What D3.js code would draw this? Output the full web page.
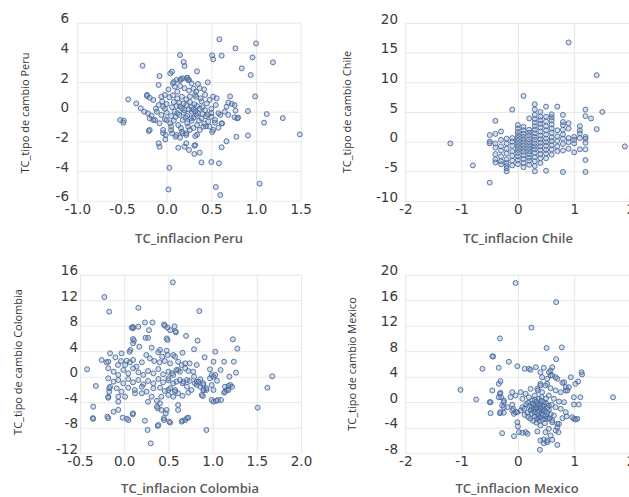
<!DOCTYPE html>
<html>
<head>
<meta charset="utf-8">
<script src="https://cdn.jsdelivr.net/npm/d3@7"></script>
<style>
  body { margin: 0; background: #fff; }
  svg { display: block; }
</style>
</head>
<body>
<svg id="chart" width="629" height="497"></svg>
<script>
// Monthly changes: inflation (x) vs exchange rate (y), one panel per country.
const peru = [
  [0.59,4.88],[1.0,4.6],[0.77,4.27],[0.15,3.82],[0.51,3.8],[0.615,3.78],[0.52,3.53],[0.96,3.66],[1.19,3.33],[0.19,3.35],
  [0.2,3.08],[-0.27,3.1],[0.84,2.92],[0.34,2.72],[0.06,2.7],[0.04,2.58],[0.94,2.47],[-0.08,2.4],[0.18,2.25],[0.46,1.98],
  [0.23,2.27],[0.25,2.13],[0.08,2.0],[0.15,2.13],[0.99,1.03],[0.71,1.03],[-0.43,0.83],[-0.34,0.56],[-0.22,1.06],[1.12,-0.16],
  [1.3,-0.43],[1.09,-0.74],[1.49,-1.53],[0.91,0.04],[0.77,0.07],[0.76,-0.38],[0.8,-0.4],[-0.52,-0.56],[-0.48,-0.6],[-0.485,-0.74],
  [0.91,-1.6],[0.78,-1.69],[0.67,-2.0],[0.615,-2.4],[-0.2,-1.3],[-0.09,-2.13],[-0.08,-2.36],[-0.015,-1.87],[0.13,-2.43],[0.22,-2.13],
  [0.2,-2.36],[0.31,-2.29],[0.31,-2.85],[0.37,-2.76],[0.39,-3.42],[0.5,-3.39],[0.585,-3.48],[0.03,-3.78],[0.55,-5.08],[1.04,-4.85],
  [0.02,-5.24],[0.6,-5.62],[0.18,-1.46],[0.22,-1.46],[0.34,-1.55],[0.51,-1.37],[0.44,-0.99],[0.54,-0.74],[0.58,-1.08],[0.62,-0.79],
  [0.15,-1.75],[0.11,-1.57],[0.05,-1.24],[-0.04,-1.44],[0,-0.56],
  [0.23,2.29],[0.16,2.2],[0.11,2.14],[0.24,2.14],[0.28,1.91],[-0.09,1.8],[0.07,1.91],[0.09,1.69],[0.15,1.73],[0.2,1.58],
  [0.25,1.42],[0.3,1.55],[0.33,1.35],[-0.22,1.13],[-0.19,0.94],[-0.15,0.79],[-0.06,1.01],[-0.02,1.13],[0.03,0.97],[0.07,1.11],
  [0.12,0.9],[0.17,1.01],[0.22,0.84],[0.26,1.01],[0.32,1.13],[-0.29,0.23],[-0.25,0.0],[-0.21,-0.11],[-0.19,-0.45],[-0.15,-0.56],
  [-0.17,-0.27],[-0.09,0.45],[-0.04,0.34],[0,0.52],[0.06,0.3],[0.11,0.38],[0.17,0.23],[0.22,0.45],[0.28,0.3],[0.34,0.38],
  [-0.11,0],[-0.06,-0.22],[0,-0.07],[0.05,-0.29],[0.09,0],[0.14,-0.22],[0.19,-0.07],[0.23,-0.29],[0.28,0],[0.33,-0.22],
  [-0.13,-0.56],[-0.08,-0.78],[-0.02,-0.51],[0.04,-0.78],[0.08,-0.61],[0.13,-0.9],[0.18,-0.56],[0.23,-0.78],[0.28,-0.61],[0.34,-0.9],
  [-0.19,-1.23],[-0.04,-1.23],[-0.01,-1.57],[0.06,-1.46],[0.1,-1.69],[0.17,-1.35],[0.22,-1.57],[0.26,-1.23],[0.32,-1.64],[0.25,-2.58],
  [0.32,-2.25],[0.35,1.87],[0.37,1.58],[0.52,1.01],[0.56,0.9],[0.43,1.13],[0.48,0.79],[0.69,0.61],[0.73,0.52],[0.76,0.45],
  [0.67,0.34],[0.33,1.0],[0.39,0.7],[0.31,0.5],[0.65,0],[0.69,-0.22],[0.79,-0.45],[0.6,-0.22],[0.54,-0.56],[0.615,-0.78],
  [0.5,-0.34],[0.465,-0.67],[0.39,-0.45],[0.43,0.11],[0.35,-0.11],[0.32,0],[0.48,-1.01],[0.52,-1.23],[0.41,-1.01],[0.37,-1.23],
  [0.4,0.3],[0.45,0.55],[0.5,0.2],[0.55,0.45],[0.58,-0.1],[0.44,-0.3],[0.38,0.9],[0.42,1.5],[0.12,1.35],[0.02,1.5],
  [-0.05,0.7],[-0.12,0.2],[0.08,0.65],[0.14,0.6],[0.2,0.1],[0.26,0.65],[0.3,-0.4],[0.36,-0.6],[0.1,-0.35],[0.16,-1.1],
  [0.24,-1.0],[0.3,-1.1],[0.42,-0.8],[0.5,-0.1],[-0.02,0.2],[0.05,-1.0],
  [0.19,0.55],[0.25,0.15],[0.12,-0.1],[0.21,-0.4],[0.27,-0.45],[0.15,0.35],[0.3,0.15],[0.37,0.2],[0.4,-0.15],[0.46,-0.2]
];

const chile = [
  [0.9,16.7],[1.4,11.2],[0.1,7.7],[-1.2,-0.3],[1.9,-0.8],[-0.8,-4.0],[-0.5,-6.9],[-0.1,5.4],[-0.4,3.5],[0.3,6.3],
  [0.3,5.4],[0.5,5.9],[0.7,5.9],[0.8,4.5],[1.2,5.4],[1.2,4.3],[1.3,3.9],[1.5,5.0],[1.4,2.1],[1.1,2.6],
  [1.1,1.9],[1.2,0.8],[1.2,-0.2],[1.2,0.5],[1.2,-3.1],[1.2,-5.1],[0.8,-5.1],[0.5,-4.9],[0.3,-5.0],[-0.5,1.1],
  [-0.4,1.3],[-0.5,0],[-0.3,1.7],[-0.4,-2.1],[-0.4,-3.0],[-0.3,-2.5],[-0.2,-3.0],[-0.2,-4.5],[-0.2,-5.0],[-0.5,-0.3],
  [-0.4,-0.3],[0.4,5.0],[0.5,4.2],[0.6,4.1],[0.6,3.6],[0.5,3.4],[0.9,3.1],[0.9,2.2],[0.8,2.8],[0.8,2.0],
  [1.1,1.4],[1.0,0.8],[1.1,0.6],[1.0,-0.3],[1.1,-1.3],[1.0,-1.8],[0.9,-1.2],[0.8,-1.5],[0.7,-1.6],[1.2,-1.3],
  [-0.3,0.3],[-0.3,-0.8],[-0.3,-1.5],[-0.3,-3.3],[-0.3,-3.8],
  [-0.2,0.5],[-0.2,-0.3],[-0.2,-1.2],[-0.2,-2.0],[-0.2,-3.6],[-0.2,-4.1],
  [-0.1,0.6],[-0.1,0],[-0.1,-0.7],[-0.1,-1.6],[-0.1,-2.4],[-0.1,-3.2],[-0.1,-4.0],
  [0,2.8],[0,2.2],[0,1.6],[0,1.1],[0,0.6],[0,0.1],[0,-0.4],[0,-0.9],[0,-1.4],[0,-1.9],[0,-2.5],[0,-3.1],[0,-3.8],
  [0.1,2.5],[0.1,1.9],[0.1,1.3],[0.1,0.8],[0.1,0.3],[0.1,-0.2],[0.1,-0.7],[0.1,-1.2],[0.1,-1.7],[0.1,-2.3],[0.1,-2.9],[0.1,-3.6],[0.1,-4.3],
  [0.2,3.9],[0.2,2.0],[0.2,1.5],[0.2,1.0],[0.2,0.4],[0.2,-0.1],[0.2,-0.6],[0.2,-1.1],[0.2,-1.6],[0.2,-2.1],[0.2,-2.7],[0.2,-3.2],[0.2,-3.9],
  [0.3,4.5],[0.3,3.8],[0.3,3.2],[0.3,2.6],[0.3,2.0],[0.3,1.4],[0.3,0.8],[0.3,0.3],[0.3,-0.3],[0.3,-0.8],[0.3,-1.3],[0.3,-1.9],[0.3,-2.6],[0.3,-3.3],[0.3,-4.1],
  [0.4,4.2],[0.4,3.6],[0.4,3.0],[0.4,2.4],[0.4,1.7],[0.4,1.0],[0.4,0.4],[0.4,-0.2],[0.4,-0.8],[0.4,-1.4],[0.4,-2.1],[0.4,-2.8],[0.4,-3.6],
  [0.5,2.6],[0.5,1.9],[0.5,1.2],[0.5,0.5],[0.5,-0.1],[0.5,-0.7],[0.5,-1.4],[0.5,-2.0],[0.5,-2.8],
  [0.6,4.6],[0.6,2.9],[0.6,2.2],[0.6,1.5],[0.6,0.7],[0.6,0.1],[0.6,-0.6],[0.6,-1.3],[0.6,-2.2],
  [0.7,1.9],[0.7,0.9],[0.7,0.1],[0.7,-0.8],[0.8,3.3],[0.8,1.2],[0.8,0.5],[0.8,-0.4],[0.9,0.6],[0.9,-0.1],
  [1.0,0.3],[-0.4,-1.0],[-0.4,-3.5]
];

const colombia = [
  [0.55,14.8],[-0.225,12.5],[-0.17,10.2],[0.16,10.8],[0.85,10.3],[0.235,8.5],[0.32,8.5],[0.45,8.2],[0.49,7.7],[0.57,7.9],
  [0.58,7.1],[0.1,7.8],[0.1,7.6],[0.28,7.3],[0.24,6.1],[0.27,6.1],[0.70,6.4],[0.83,5.65],[0.48,6.0],[0.49,5.75],
  [1.23,5.86],[1.28,4.4],[0.1,5.9],[0.11,5.65],[0.07,4.2],[0.06,3.9],[0.17,4.7],[0.31,4.55],[0.405,4.19],[0.48,4.08],
  [0.555,3.4],[0.66,3.76],[0.79,4.3],[0.91,3.04],[1.01,2.35],[1.13,2.35],[1.24,2.35],[-0.16,3.67],[-0.255,2.62],[-0.18,2.35],
  [-0.1,3.04],[-0.036,2.46],[0.028,2.51],[-0.42,1.16],[-0.32,-1.46],[-0.35,-4.7],[-0.356,-6.5],[-0.18,-3.14],[-0.17,-1.82],[-0.17,-2.35],
  [-0.19,-6.27],[-0.12,-5.5],[-0.067,-5.2],[-0.017,-6.43],[0.047,-6.8],[0.096,-5.9],[0.235,-6.9],[0.265,-8.36],[0.30,-10.45],[0.38,-7.73],
  [0.37,-4.7],[0.37,-3.8],[0.42,-3.14],[0.48,-5.22],[0.47,-5.74],[0.45,-6.8],[0.52,-7.2],[0.61,-5.22],[0.66,-3.0],[0.725,-2.5],
  [0.66,-6.9],[0.71,-6.5],[0.93,-8.36],[0.90,-2.1],[0.89,-3.03],[1.01,-3.92],[1.06,-3.66],[1.13,-2.51],[1.51,-4.86],[1.62,-1.73],
  [1.675,0.06],[0.97,1.16],[1.01,0],[1.09,1.05],[1.19,0],[1.20,-1.3],[1.16,-2.09],[1.22,-1.57],[1.03,3.92],[1.265,0.63],
  [1.095,-3.65],[1.05,-0.63],[0.79,0],[0.82,-0.78],[0.86,-1.57],[0.895,-1.04],[0.93,-2.09],[0.86,-0.41],[0.69,1.32],[0.74,2.1],
  [0.78,0.78],[0.82,1.84],[0.65,1.84],[0.59,1.05],[0.54,0.53],[0.50,-0.25],[0.59,-0.78],[0.66,-1.04],[0.71,-1.57],[0.76,-2.09],
  [0.61,-2.6],[0.555,-3.14],[0.50,-2.09],[0.085,7.7],[0.16,7.84],[0.46,8.0],[0.52,7.3],[0.585,6.96],[0.10,5.24],[0.385,3.83],
  [0.43,3.14],[0.49,3.4],[0.575,3.14],[-0.2,2.26],[-0.03,3.66],[-0.07,1.84],[0.01,1.84],[0.065,2.26],[0.10,2.62],[0.14,1.57],
  [0.20,2.26],[0.25,3.4],[0.29,2.88],[0.34,2.46],[0.40,2.26],[0.46,2.46],[0.52,2.1],
  [-0.18,1.32],[-0.12,0.78],[-0.067,0.27],[-0.01,1.05],[0.046,0.53],[0.10,1.32],[0.16,0.69],[0.216,0.27],[0.27,0.89],[0.33,0.53],
  [0.386,1.2],[0.44,0.37],[0.50,0.78],[0.555,0.27],[0.61,1.05],
  [-0.18,-0.25],[-0.12,-0.78],[-0.067,-0.52],[-0.01,-1.04],[0.046,-0.36],[0.10,-0.88],[0.16,-0.52],[0.216,-1.19],[0.27,-0.67],[0.33,-1.04],
  [0.386,-0.36],[0.44,-0.88],[0.50,-0.56],[0.555,-1.04],
  [-0.16,-1.57],[-0.085,-1.82],[-0.03,-2.35],[0.046,-1.73],[0.12,-2.09],[0.2,-1.57],[0.254,-2.35],[0.33,-1.82],[0.405,-1.73],[0.46,-2.24],
  [0.52,-1.82],[0.575,-2.09],
  [-0.18,-3.3],[-0.067,-3.14],[-0.067,-3.92],[0.01,-3.14],[0.123,-2.6],[0.2,-2.6],[0.27,-3.92],[0.31,-3.14],[0.405,-4.17],[0.38,-4.96],
  [0.42,-5.22],[0.5,-2.87],[0.575,-2.35],[-0.35,-6.6],[-0.18,-6.5],[0.03,-6.6],[0.10,-5.75],[0.386,-7.57],[0.45,-6.5],[0.51,-7.05],
  [0.61,2.35],[0.69,2.1],[0.63,0.78],[0.725,0.89],[0.63,-0.52],[0.67,-0.78],[0.71,-0.52],[0.74,-0.67],[0.80,-1.04],[0.82,-1.3],
  [0.84,-0.78],[0.895,-1.3],[0.895,-2.09],[0.877,-2.87],[0.93,-1.82],[0.97,-0.25],[0.99,0.27],[1.03,0.27],[0.99,-1.3],[1.01,-2.09],
  [1.14,-1.57],[1.18,-1.46],[1.18,-2.09],[1.14,-2.35],[0.99,-3.65],[1.04,-3.8],[0.69,-6.8],[0.725,-6.43],[0.65,-7.05],[0.61,-4.44]
];

const mexico = [
  [-0.04,18.7],[0.68,15.7],[0.24,11.7],[-0.32,10.0],[0.51,8.5],[0.78,8.6],[-0.455,7.2],[0.68,6.75],[-0.16,6.34],[-0.01,5.65],
  [-0.34,5.4],[-0.63,5.24],[0.12,5.24],[0.195,5.24],[0.225,5.08],[0.32,5.49],[0.46,5.4],[0.58,4.97],[0.61,5.49],[1.13,4.7],
  [1.14,4.35],[1.07,3.25],[0.94,3.92],[-1.02,1.94],[-0.74,0.42],[1.69,0.78],[-0.485,-1.73],[-0.32,-1.73],[-0.25,-1.66],[-0.28,-4.86],
  [-0.34,2.88],[-0.31,3.3],[-0.32,1.32],[-0.30,0.78],[-0.485,0],[-0.455,1.84],[-0.25,0.27],[-0.13,0.78],[-0.10,-1.3],[-0.07,-1.82],
  [-0.04,-1.57],[0.08,-0.78],[-0.01,-3.14],[0,-3.8],[0.14,-4.7],[0.17,-4.96],[0.345,-4.6],[0.46,-6.43],[0.40,-6.0],[0.52,-6.0],
  [0.61,-5.9],[0.70,-6.7],[0.39,-7.47],[0.72,-4.7],[0.70,-3.4],[0.53,-2.6],[0.61,-2.87],[0.865,-2.24],[0.995,-2.6],[1.055,-2.6],
  [0.995,0.78],[0.995,-0.36],[1.11,0.78],[1.08,-0.36],[0.82,0],[1.02,2.88],[0.905,2.35],[0.85,1.84],[0.82,3.14],[0.70,3.66],
  [0.58,4.19],[0.52,2.88],[0.965,-2.35],[1.025,-2.7],[0.70,-3.92],[0.55,-4.17],[0.58,-5.22],[0.46,-5.85],[0.52,-6.27],
  [0.40,4.7],[0.55,4.7],[0.61,4.19],[0.43,3.92],[0.52,3.66],[0.67,3.92],[0.79,3.04],[0.85,2.35],[0.88,1.84],[0.76,1.57],
  [0.67,1.84],[0.58,2.2],[0.49,2.62],[0.40,2.88],[0.345,2.1],[0.43,1.57],[0.55,1.05],[0.64,0.53],[0.73,0.1],[0.373,0.53],
  [0.46,0],[0.55,-0.52],[0.67,-0.78],[0.76,-1.04],[0.85,-1.57],[0.345,-0.78],[0.43,-1.3],[0.52,-1.66],[0.64,-2.09],[0.79,-2.5],
  [0.373,-2.35],[0.49,-2.6],[0.61,-3.14],[0.73,-3.4],[0.40,-3.66],[0.67,-4.44],[0.49,-4.7],
  [-0.44,7.17],[-0.31,1.47],[-0.34,0.78],[-0.25,0],[-0.28,-0.52],[-0.50,0],[-0.31,-1.57],[-0.25,-0.78],[-0.10,-0.41],[-0.08,-1.04],
  [-0.19,-0.78],[-0.01,-1.57],[0.05,-1.3],[0.11,-1.04],[0.17,-1.66],[0.225,-1.3],[0.285,-0.78],[0.18,-0.1],[0.256,0.27],[0.30,1.05],
  [0.355,1.84],[0.40,2.62],[0.225,2.1],[0.137,1.32],[0.05,1.57],[-0.04,1.05],[-0.10,1.57],[0.08,0.53],[0.195,0.78],[-0.07,-5.33],
  [0.02,-4.7],[0.08,-4.8],
  [0.15,-0.3],[0.2,-0.6],[0.25,-1.8],[0.3,-2.2],[0.35,-1.6],[0.4,-0.4],[0.45,-1.0],[0.5,-0.2],[0.3,0.4],[0.35,-0.2],
  [0.42,0.8],[0.28,-1.2],[0.38,-2.9],[0.45,-2.0],[0.55,-1.2],[0.6,-0.4],[0.5,0.6],[0.22,-2.6],[0.33,-3.2],[0.12,-2.0],
  [0.18,-2.3],[0.26,-0.2],[0.48,-3.3],[0.58,-1.9],
  [0.32,-1.0],[0.38,-1.3],[0.42,-1.7],[0.36,-2.0],[0.4,-2.4],[0.44,-2.7],[0.3,-1.6],[0.34,-2.6],[0.47,-1.4],[0.4,-0.9],
  [0.36,-0.4],[0.28,-0.5],[0.24,-0.9],[0.46,-0.5],[0.52,-0.9],[0.5,-2.2],[0.56,-2.5],[0.27,-2.9],[0.33,0.1],[0.42,0.2]
];

// Axis tick values per panel
const peruXTicks = [-1.0, -0.5, 0.0, 0.5, 1.0, 1.5];
const peruYTicks = [-6, -4, -2, 0, 2, 4, 6];
const chileXTicks = [-2, -1, 0, 1, 2];
const chileYTicks = [-10, -5, 0, 5, 10, 15, 20];
const colombiaXTicks = [-0.5, 0.0, 0.5, 1.0, 1.5, 2.0];
const colombiaYTicks = [-12, -8, -4, 0, 4, 8, 12, 16];
const mexicoXTicks = [-2, -1, 0, 1, 2];
const mexicoYTicks = [-8, -4, 0, 4, 8, 12, 16, 20];

const titlesX = ["TC_inflacion Peru", "TC_inflacion Chile", "TC_inflacion Colombia", "TC_inflacion Mexico"];
const titlesY = ["TC_tipo de cambio Peru", "TC_tipo de cambio Chile", "TC_tipo de cambio Colombia", "TC_tipo de cambio Mexico"];

// number formats with a plain hyphen for negatives
const hyphen = f => v => f(v).replace("\u2212", "-");
const fmt1 = hyphen(d3.format(".1f"));
const fmt0 = hyphen(d3.format("d"));

// Panel geometry (pixel boxes and title anchors)
const panels = [
  { pts: peru, xt: peruXTicks, yt: peruYTicks, fmt: fmt1,
    l: 77.3, r: 300.7, t: 22.7, b: 200.7, xLabY: 209, yLabX: 69, xtX: 189, xtY: 238, ytX: 25, ytY: 113 },
  { pts: chile, xt: chileXTicks, yt: chileYTicks, fmt: fmt0,
    l: 405.3, r: 630.5, t: 22.9, b: 201, xLabY: 209, yLabX: 398, xtX: 518, xtY: 238, ytX: 346.7, ytY: 112 },
  { pts: colombia, xt: colombiaXTicks, yt: colombiaYTicks, fmt: fmt1,
    l: 80, r: 301, t: 274.7, b: 453.2, xLabY: 461, yLabX: 78, xtX: 190, xtY: 488, ytX: 18.3, ytY: 362 },
  { pts: mexico, xt: mexicoXTicks, yt: mexicoYTicks, fmt: fmt0,
    l: 405.3, r: 630.5, t: 274.7, b: 453.2, xLabY: 461, yLabX: 398, xtX: 517, xtY: 488, ytX: 351.7, ytY: 364 }
];

const svg = d3.select("#chart");
const tickFont = "'DejaVu Sans', Verdana, sans-serif";
const titleFont = "'Open Sans', 'Noto Sans', sans-serif";

panels.forEach((p, i) => {
  const x = d3.scaleLinear().domain(d3.extent(p.xt)).range([p.l, p.r]);
  const y = d3.scaleLinear().domain(d3.extent(p.yt)).range([p.b, p.t]);
  const g = svg.append("g");

  // vertical gridlines + x tick labels
  const gx = g.append("g")
    .attr("transform", `translate(0,${p.b})`)
    .call(d3.axisBottom(x).tickValues(p.xt).tickFormat(p.fmt)
      .tickSize(-(p.b - p.t)));
  gx.select(".domain").remove();
  gx.selectAll("line").attr("stroke", "#e7e7e7");
  gx.selectAll("text").attr("font-family", tickFont).attr("font-size", 13.5)
    .attr("fill", "#3a3a3a").attr("dy", "0.35em").attr("y", p.xLabY - p.b);

  // horizontal gridlines + y tick labels
  const gy = g.append("g")
    .attr("transform", `translate(${p.l},0)`)
    .call(d3.axisLeft(y).tickValues(p.yt).tickFormat(fmt0)
      .tickSize(-(p.r - p.l)));
  gy.select(".domain").remove();
  gy.selectAll("line").attr("stroke", "#e7e7e7");
  gy.selectAll("text").attr("font-family", tickFont).attr("font-size", 13.5)
    .attr("fill", "#3a3a3a").attr("x", -(p.l - p.yLabX)).attr("dy", "0.35em")
    .attr("transform", "translate(0,-4.5)");

  // points
  g.append("g").selectAll("circle").data(p.pts).join("circle")
    .attr("cx", d => x(d[0]))
    .attr("cy", d => y(d[1]))
    .attr("r", 2.5)
    .attr("fill", "rgba(90,140,205,0.28)")
    .attr("stroke", "#506a95")
    .attr("stroke-width", 0.9);

  // axis titles
  g.append("text")
    .attr("x", p.xtX).attr("y", p.xtY).attr("dy", "0.35em")
    .attr("text-anchor", "middle")
    .attr("font-family", titleFont).attr("font-size", 13).attr("font-weight", 600)
    .attr("fill", "#595959")
    .text(titlesX[i]);
  g.append("text")
    .attr("transform", `translate(${p.ytX},${p.ytY}) rotate(-90)`)
    .attr("dy", "0.35em")
    .attr("text-anchor", "middle")
    .attr("font-family", titleFont).attr("font-size", 11)
    .attr("fill", "#333")
    .text(titlesY[i]);
});
</script>
</body>
</html>
